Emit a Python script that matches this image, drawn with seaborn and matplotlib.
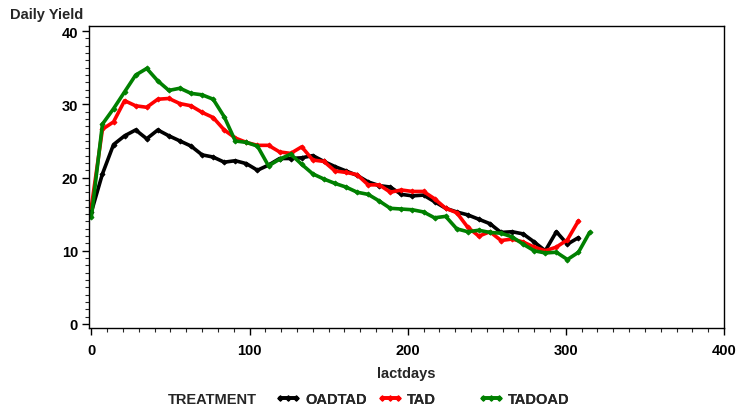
import numpy as np
import pandas as pd
import matplotlib
matplotlib.use("Agg")
import matplotlib.pyplot as plt
import seaborn as sns
from matplotlib.lines import Line2D
from matplotlib.ticker import MultipleLocator

days_green = list(range(0, 316, 7))
days_other = list(range(0, 309, 7))

oadtad = [15.3, 20.5, 24.5, 25.7, 26.5, 25.3, 26.5, 25.7, 25.0, 24.3, 23.1, 22.8,
          22.1, 22.3, 21.9, 21.0, 21.7, 22.6, 22.6, 22.7, 23.0, 22.2, 21.5, 20.9,
          20.3, 19.4, 18.9, 18.7, 17.7, 17.5, 17.6, 16.7, 15.8, 15.3, 14.9, 14.3,
          13.7, 12.5, 12.6, 12.3, 11.2, 10.0, 12.6, 10.9, 11.8]
tad = [16.0, 26.6, 27.6, 30.5, 29.8, 29.6, 30.7, 30.8, 30.1, 29.8, 28.9, 28.2,
       26.5, 25.4, 24.8, 24.4, 24.4, 23.5, 23.3, 24.2, 22.4, 22.2, 20.9, 20.7,
       20.4, 19.0, 19.0, 18.0, 18.3, 18.1, 18.1, 17.1, 15.8, 15.2, 13.2, 12.0,
       12.6, 11.4, 11.6, 11.2, 10.5, 10.0, 10.5, 11.5, 14.1]
tadoad = [14.6, 27.3, 29.4, 31.7, 34.0, 34.9, 33.2, 31.9, 32.2, 31.5, 31.3, 30.7,
          28.3, 25.0, 24.8, 24.3, 21.6, 22.5, 23.2, 21.8, 20.5, 19.8, 19.2, 18.7,
          18.0, 17.7, 16.8, 15.8, 15.7, 15.6, 15.3, 14.5, 14.7, 13.0, 12.6, 12.8,
          12.5, 12.4, 11.9, 10.9, 10.0, 9.7, 9.8, 8.8, 9.8, 12.5]

treatments = ["OADTAD", "TAD", "TADOAD"]
colors = {"OADTAD": "#000000", "TAD": "#FF0000", "TADOAD": "#008000"}

df = pd.concat([
    pd.DataFrame({"lactdays": days_other, "yield": oadtad, "TREATMENT": "OADTAD"}),
    pd.DataFrame({"lactdays": days_other, "yield": tad, "TREATMENT": "TAD"}),
    pd.DataFrame({"lactdays": days_green, "yield": tadoad, "TREATMENT": "TADOAD"}),
], ignore_index=True)

sns.set_style("white")
plt.rcParams["font.family"] = ["Liberation Sans", "DejaVu Sans"]
plt.rcParams["font.weight"] = "bold"

FS = 10.5

fig = plt.figure(figsize=(7.36, 4.10), dpi=100)
ax = fig.add_axes([89 / 736, 1 - 329 / 410, (724 - 89) / 736, (329 - 27) / 410])

sns.lineplot(data=df, x="lactdays", y="yield", hue="TREATMENT", hue_order=treatments,
             palette=colors, linewidth=2.6, marker="D", markersize=2.5,
             legend=False, ax=ax)
for ln in ax.lines:
    ln.set_markeredgecolor(ln.get_color())
    ln.set_markerfacecolor(ln.get_color())

ax.set_xlim(-1.5, 400)
ax.set_ylim(-0.55, 40.7)
ax.xaxis.set_major_locator(MultipleLocator(100))
ax.xaxis.set_minor_locator(MultipleLocator(10))
ax.yaxis.set_major_locator(MultipleLocator(10))
ax.yaxis.set_minor_locator(MultipleLocator(1))
ax.tick_params(axis="both", which="major", direction="out", length=5, width=1,
               labelsize=FS, colors="black", bottom=True, left=True, pad=3)
ax.tick_params(axis="both", which="minor", direction="out", length=3, width=0.8,
               bottom=True, left=True)
ax.tick_params(axis="x", which="major", pad=6)
for lab in ax.get_xticklabels() + ax.get_yticklabels():
    lab.set_fontweight("bold")
for sp in ax.spines.values():
    sp.set_visible(True)
    sp.set_color("black")
    sp.set_linewidth(1)

ax.set_xlabel("lactdays", fontsize=FS, fontweight="bold", labelpad=6)
ax.set_ylabel("")
fig.text(10 / 736, 1 - 15 / 410, "Daily Yield", fontsize=FS, fontweight="bold",
         va="center", ha="left")

fig.text(168 / 736, 1 - 400 / 410, "TREATMENT", fontsize=FS, fontweight="bold",
         va="center", ha="left")
legend_x = {"OADTAD": 276, "TAD": 378, "TADOAD": 479}
for t in treatments:
    h = Line2D([0], [0], color=colors[t], linewidth=2.6, marker="D", markersize=2.5)
    leg = fig.legend([h], [t], loc="center left",
                     bbox_to_anchor=(legend_x[t] / 736, 1 - 400 / 410),
                     frameon=False, handlelength=1.7, handletextpad=0.3,
                     numpoints=3, borderpad=0, borderaxespad=0,
                     prop={"size": FS, "weight": "bold"})
    fig.add_artist(leg)

fig.savefig("out.png", dpi=100)
